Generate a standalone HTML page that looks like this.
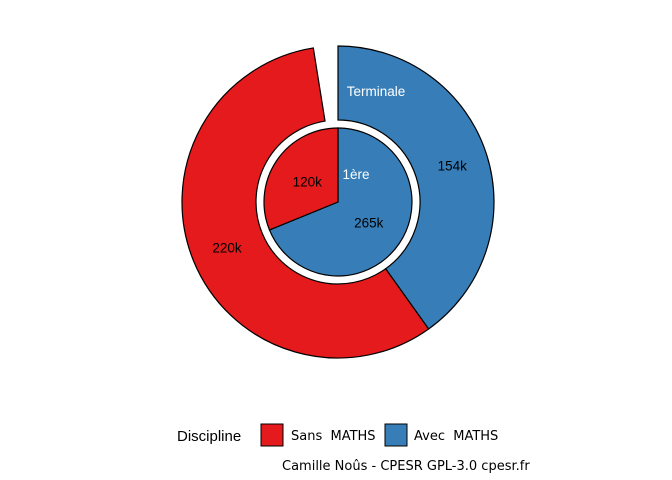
<!DOCTYPE html>
<html><head><meta charset="utf-8"><style>
body{margin:0;background:#fff}
svg{display:block;font-family:"Liberation Sans","DejaVu Sans",sans-serif}
.dv{font-family:"DejaVu Sans",sans-serif}
</style></head><body>
<svg id="chart" width="672" height="480" viewBox="0 0 672 480">
<g id="marks"></g>
<g id="legend">
<text x="177" y="441" font-size="15" fill="#000">Discipline</text>
<rect x="261" y="424" width="22" height="22" fill="#E41A1C" stroke="#000"/>
<text class="dv" x="291" y="440" font-size="13" fill="#000" xml:space="preserve">Sans  MATHS</text>
<rect x="385" y="424" width="22" height="22" fill="#377EB8" stroke="#000"/>
<text class="dv" x="414" y="440" font-size="13" fill="#000" xml:space="preserve">Avec  MATHS</text>
</g>
<text class="dv" x="282" y="470" font-size="13" fill="#000">Camille Noûs - CPESR GPL-3.0 cpesr.fr</text>
</svg>
<script>
const categories = ["Avec MATHS", "Sans MATHS"];
const colors = ["#377EB8", "#E41A1C"];
const innerValues = [265, 120];      // 1ère
const outerValues = [154, 220];      // Terminale
const outerGap = 9.7;                // hidden remainder in outer ring
const innerLabels = ["265k", "120k"];
const outerLabels = ["154k", "220k"];

const cx = 338, cy = 202;
const NS = "http://www.w3.org/2000/svg";
const marks = document.getElementById("marks");
function pt(r, a){ return [cx + r*Math.sin(a), cy - r*Math.cos(a)]; }
function arc(r0, r1, a0, a1){
  const large = (a1 - a0) > Math.PI ? 1 : 0;
  const [x1,y1] = pt(r1,a0), [x2,y2] = pt(r1,a1);
  if (r0 <= 0) return `M${cx},${cy}L${x1},${y1}A${r1},${r1} 0 ${large} 1 ${x2},${y2}Z`;
  const [x3,y3] = pt(r0,a1), [x4,y4] = pt(r0,a0);
  return `M${x1},${y1}A${r1},${r1} 0 ${large} 1 ${x2},${y2}L${x3},${y3}A${r0},${r0} 0 ${large} 0 ${x4},${y4}Z`;
}
function addText(x,y,txt,fill,name){
  const t = document.createElementNS(NS,"text");
  t.setAttribute("x",x); t.setAttribute("y",y);
  t.setAttribute("text-anchor","middle"); t.setAttribute("font-size","13.5");
  t.setAttribute("fill",fill); t.textContent = txt;
  
  
  marks.appendChild(t);
}
function ring(values, total, r0, r1, labels, labelR, prefix){
  let a = 0;
  values.forEach((v,i)=>{
    const a1 = a + v/total*2*Math.PI;
    const p = document.createElementNS(NS,"path");
    p.setAttribute("d", arc(r0,r1,a,a1));
    p.setAttribute("fill", colors[i]);
    p.setAttribute("stroke","#000"); p.setAttribute("stroke-width","1.2");
    
    
    marks.appendChild(p);
    const m = (a+a1)/2; const [lx,ly] = pt(labelR, m);
    addText(lx, ly+5, labels[i], "#000", prefix + '-value-label-' + (i===0?'avec':'sans'));
    a = a1;
  });
}
const innerTotal = innerValues.reduce((s,v)=>s+v,0);
const outerTotal = outerValues.reduce((s,v)=>s+v,0) + outerGap;
ring(outerValues, outerTotal, 82, 156, outerLabels, 120, "outer");
ring(innerValues, innerTotal, 0, 74, innerLabels, 37, "inner");
addText(376, 96, "Terminale", "#fff", "outer-ring-title");
addText(356, 179, "1ère", "#fff", "inner-ring-title");
</script>
</body></html>
